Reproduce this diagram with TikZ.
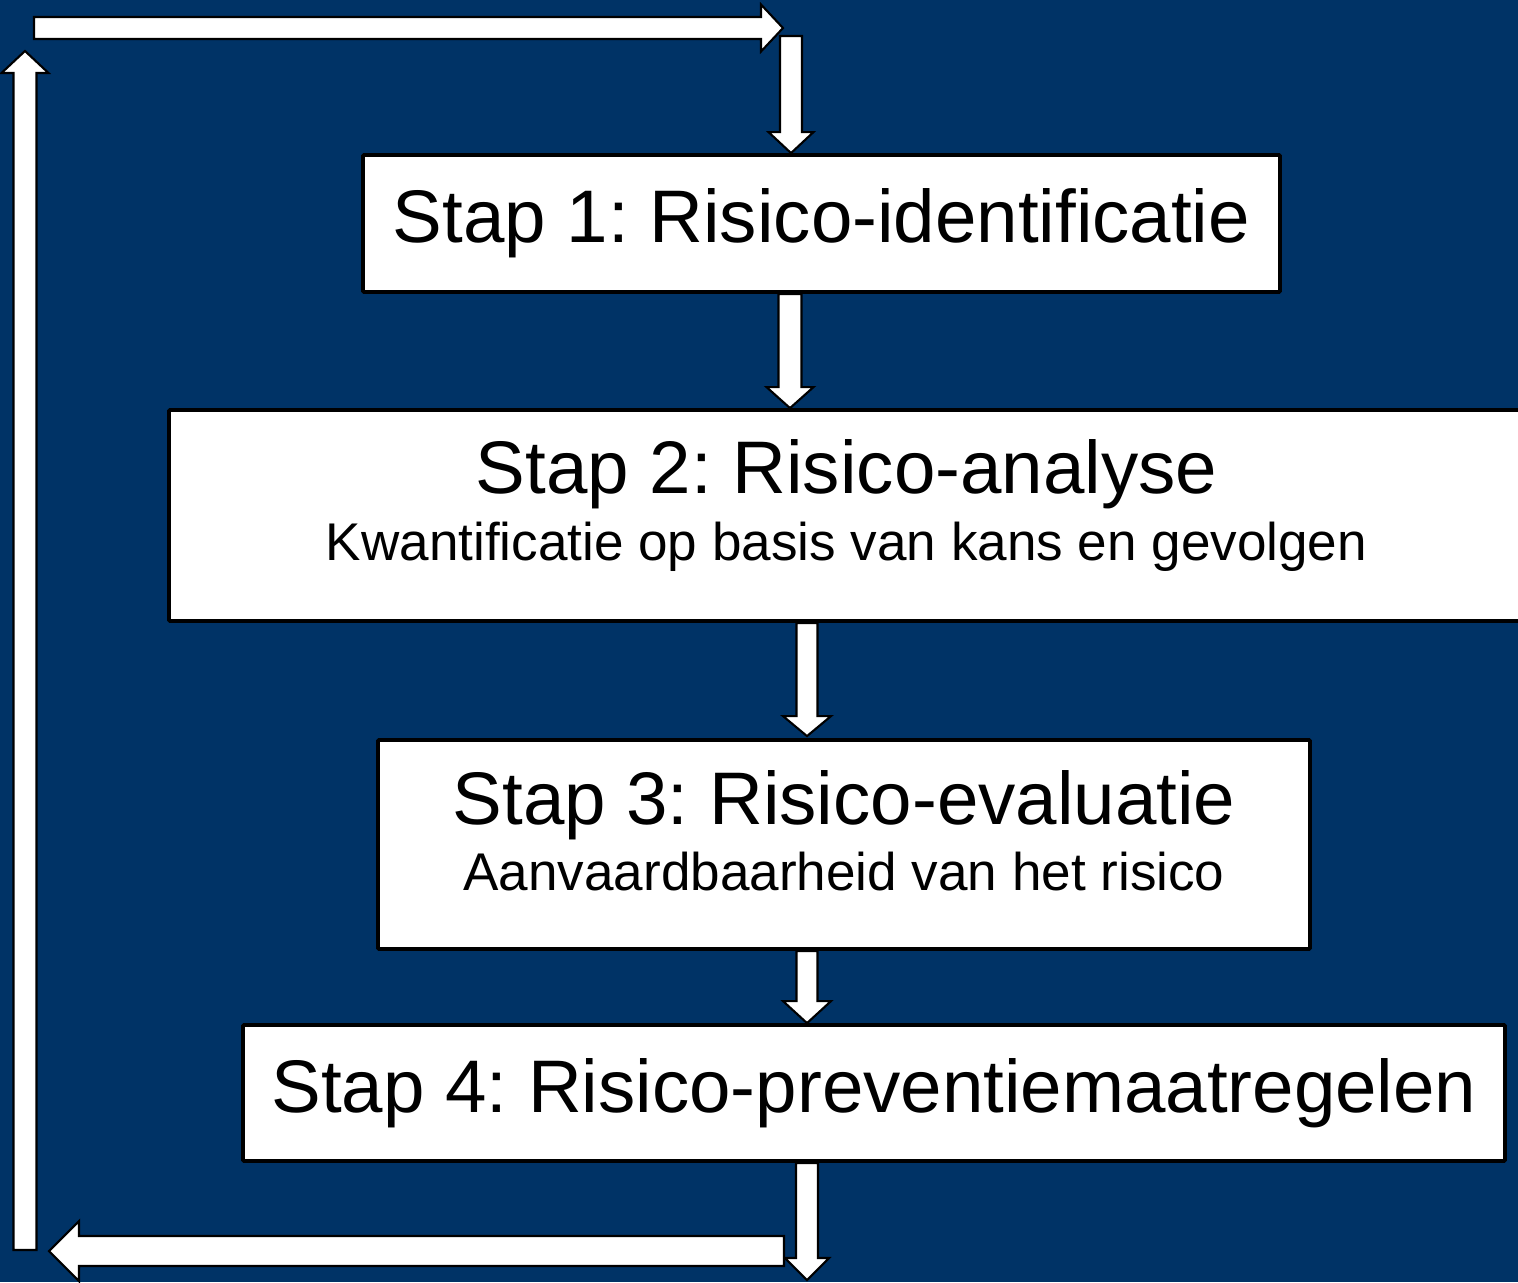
\documentclass[tikz,border=0pt]{standalone}
\usepackage{fontspec}
\setmainfont{Liberation Sans}
\usetikzlibrary{
		calc,
		positioning
	}
\frenchspacing
\definecolor{navy}{RGB}{0,51,102}
\tikzset{
		stapbox/.style={draw=black,fill=white,line width=1.1pt,rounded corners=0.3pt,inner sep=0pt,align=center,font=\fontsize{21.2}{25}\selectfont},
		titletext/.style={anchor=base,inner sep=0pt,font=\fontsize{21.2}{25}\selectfont},
		subtext/.style={anchor=base,inner sep=0pt,font=\fontsize{15.1}{19}\selectfont},
		arrowline/.style={draw=black,fill=white,line width=0.6pt,line join=miter}
	}
% block arrow: from, to, half shaft, half head, head length
\newcommand{\blockarrow}[5]{%
  \coordinate (ba-h) at ($(#2)!#5!(#1)$);
  \filldraw[arrowline] ($(#1)!#3!90:(#2)$) -- ($(ba-h)!#3!90:(#2)$) -- ($(ba-h)!#4!90:(#2)$) -- (#2)
    -- ($(ba-h)!#4!-90:(#2)$) -- ($(ba-h)!#3!-90:(#2)$) -- ($(#1)!#3!-90:(#2)$) -- cycle;
}

\begin{document}
\begin{tikzpicture}[x=0.1mm,y=-0.1mm]
          \fill[navy] (0,0) rectangle (1518,1282);
          \useasboundingbox (0,0) rectangle (1518,1282);

          \node[stapbox,minimum width=91.7mm,minimum height=13.7mm] (s1) at (821.5,223.5) {Stap 1: Risico-identificatie};
          \node[stapbox,minimum width=135.5mm,minimum height=21.1mm] (s2) at (846.5,515.5) {};
          \node[titletext] (s2t) at ([yshift=2.25mm]s2.center) {Stap 2: Risico-analyse};
          \node[subtext] (s2s) at ([yshift=-4.45mm]s2.center) {Kwantificatie op basis van kans en gevolgen};
          \node[stapbox,minimum width=93.2mm,minimum height=20.9mm] (s3) at (844,844.5) {};
          \node[titletext] (s3t) at ([yshift=2.05mm]s3.center) {Stap 3: Risico-evaluatie};
          \node[subtext] (s3s) at ([yshift=-4.55mm]s3.center) {Aanvaardbaarheid van het risico};
          \node[stapbox,minimum width=126.2mm,minimum height=13.6mm] (s4) at (874,1093) {Stap 4: Risico-preventiemaatregelen};

          \coordinate (xa) at (790,0);
          \coordinate (xb) at (807,0);
          \coordinate (a1) at (s1.south -| xa);
          \coordinate (a2) at (s2.north -| xa);
          \coordinate (b1) at (s2.south -| xb);
          \coordinate (b2) at ($(s3.north -| xb)+(0,-2)$);
          \coordinate (c1) at (s3.south -| xb);
          \coordinate (c2) at (s4.north -| xb);
          \coordinate (d1) at (s4.south -| xb);
          \coordinate (d2) at (807,1280);

          % loop back to the top
          \coordinate (e1) at (784,1251);
          \coordinate (e2) at (49,1251);
          \coordinate (f1) at (25,1250);
          \coordinate (f2) at (25,51);
          \coordinate (g1) at (34,28);
          \coordinate (g2) at (783,28);
          \coordinate (h1) at (791,36);
          \coordinate (h2) at (s1.north -| h1);

          \blockarrow{a1}{a2}{1.15mm}{2.35mm}{2.1mm}
          \blockarrow{b1}{b2}{1.05mm}{2.4mm}{2mm}
          \blockarrow{c1}{c2}{1.05mm}{2.4mm}{2.2mm}
          \blockarrow{d1}{d2}{1.1mm}{2.2mm}{2.2mm}
          \blockarrow{e1}{e2}{1.5mm}{3mm}{3mm}
          \blockarrow{f1}{f2}{1.15mm}{2.35mm}{2.2mm}
          \blockarrow{g1}{g2}{1.1mm}{2.35mm}{2.2mm}
          \blockarrow{h1}{h2}{1.1mm}{2.25mm}{2.1mm}
\end{tikzpicture}
\end{document}
